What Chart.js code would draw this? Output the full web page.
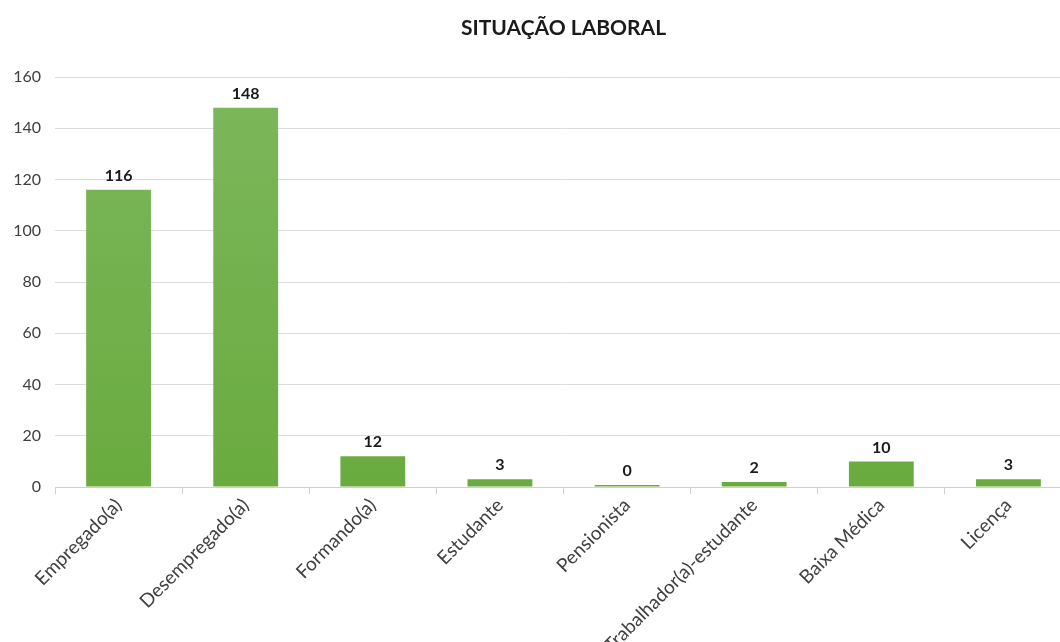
<!DOCTYPE html>
<html>
<head>
<meta charset="utf-8">
<script src="https://cdn.jsdelivr.net/npm/chart.js@4"></script>
<style>
    html, body { margin: 0; padding: 0; background: #fff; overflow: hidden; }
    #wrap { width: 1072px; height: 642px; position: relative; }
</style>
</head>
<body>
<div id="wrap"><canvas id="barChart"></canvas></div>
<script>
// chart data
const chartTitle = 'SITUAÇÃO LABORAL';
const categories = ['Empregado(a)', 'Desempregado(a)', 'Formando(a)', 'Estudante',
    'Pensionista', 'Trabalhador(a)-estudante', 'Baixa Médica', 'Licença'];
const counts = [116, 148, 12, 3, 0, 2, 10, 3];
const yTicks = [0, 20, 40, 60, 80, 100, 120, 140, 160];

const fontName = 'Lato, "Liberation Sans", sans-serif';

// bar fill, lighter at the top like the excel one
function barFill(context) {
    const area = context.chart.chartArea;
    if (!area) return '#70ad47';
    const g = context.chart.ctx.createLinearGradient(0, area.top, 0, area.bottom);
    g.addColorStop(0, '#7db75c');
    g.addColorStop(1, '#6aab3f');
    return g;
}

// title centred over the plot area
const titlePlugin = {
    id: 'plotTitle',
    afterDraw(chart) {
        const ctx = chart.ctx;
        const area = chart.chartArea;
        ctx.save();
        ctx.font = 'bold 21px ' + fontName;
        ctx.fillStyle = '#1a1a1a';
        ctx.textAlign = 'center';
        ctx.textBaseline = 'middle';
        ctx.fillText(chartTitle, (area.left + area.right) / 2, 28);
        ctx.restore();
    }
};

// value labels above bars
const valuePlugin = {
    id: 'valueLabels',
    afterDatasetsDraw(chart) {
        const ctx = chart.ctx;
        const meta = chart.getDatasetMeta(0);
        ctx.save();
        ctx.font = 'bold 16px ' + fontName;
        ctx.fillStyle = '#1a1a1a';
        ctx.textAlign = 'center';
        ctx.textBaseline = 'bottom';
        meta.data.forEach((bar, i) => {
            ctx.fillText(counts[i], bar.x, bar.y - 6);
        });
        ctx.restore();
    }
};

new Chart(document.getElementById('barChart'), {
    type: 'bar',
    data: {
        labels: categories,
        datasets: [{
            data: counts,
            backgroundColor: barFill,
            borderWidth: 0,
            categoryPercentage: 1,
            barPercentage: 0.51,
            minBarLength: 2
        }]
    },
    options: {
        responsive: true,
        maintainAspectRatio: false,
        animation: false,
        layout: { padding: { top: 77, right: 0, left: 0, bottom: 0 } },
        plugins: {
            legend: { display: false },
            tooltip: { enabled: false }
        },
        scales: {
            x: {
                grid: {
                    offset: true,
                    drawOnChartArea: false,
                    color: '#d0d0d0',
                    tickLength: 7
                },
                border: { color: '#d0d0d0' },
                ticks: {
                    color: '#404040',
                    font: { family: fontName, size: 19 },
                    minRotation: 45,
                    maxRotation: 45,
                    autoSkip: false,
                    padding: 0,
                    labelOffset: 0
                },
                afterFit(scale) { scale.height = 155; }
            },
            y: {
                min: 0,
                max: 160,
                afterBuildTicks(scale) {
                    scale.ticks = yTicks.map(v => ({ value: v }));
                },
                grid: { color: '#dcdcdc', drawTicks: false },
                border: { display: false },
                ticks: {
                    color: '#404040',
                    font: { family: fontName, size: 16 },
                    padding: 14
                },
                afterFit(scale) { scale.width = 55; }
            }
        }
    },
    plugins: [titlePlugin, valuePlugin]
});
</script>
</body>
</html>
